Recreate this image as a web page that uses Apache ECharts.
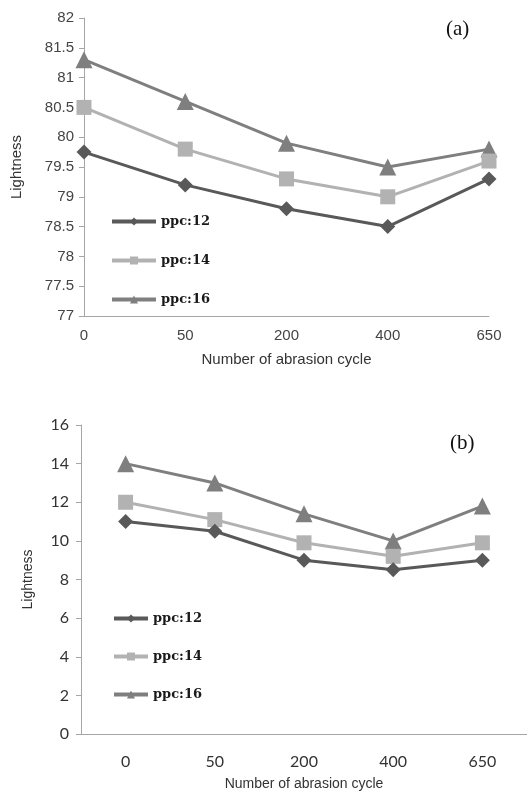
<!DOCTYPE html>
<html>
<head>
<meta charset="utf-8">
<script src="https://cdn.jsdelivr.net/npm/echarts@6/dist/echarts.min.js"></script>
<style>
  html, body { margin: 0; padding: 0; background: #fff; }
  #chart { width: 527px; height: 792px; }
</style>
</head>
<body>
<div id="chart"></div>
<script>
var cycles = ["0", "50", "200", "400", "650"];
var seriesNames = ["ppc:12", "ppc:14", "ppc:16"];

// panel (a)
var topPpc12 = [79.75, 79.2, 78.8, 78.5, 79.3];
var topPpc14 = [80.5, 79.8, 79.3, 79.0, 79.6];
var topPpc16 = [81.3, 80.6, 79.9, 79.5, 79.8];

// panel (b)
var botPpc12 = [11, 10.5, 9, 8.5, 9];
var botPpc14 = [12, 11.1, 9.9, 9.2, 9.9];
var botPpc16 = [14, 13, 11.4, 10, 11.8];

var colors = ["#595959", "#b2b2b2", "#7f7f7f"];
var symbols = ["diamond", "rect", "triangle"];
var symbolSizes = [15, 15, 17];

var chart = echarts.init(document.getElementById("chart"));

function makeSeries(idx, grid, data) {
  return {
    name: seriesNames[idx],
    type: "line",
    xAxisIndex: grid,
    yAxisIndex: grid,
    data: data,
    symbol: symbols[idx],
    symbolSize: symbolSizes[idx],
    showAllSymbol: true,
    color: colors[idx],
    lineStyle: { width: 3, color: colors[idx] },
    itemStyle: { color: colors[idx] },
    animation: false,
    z: 3 - idx
  };
}

var legendText = {
  fontFamily: "DejaVu Serif",
  fontWeight: "bold",
  fontSize: 13,
  color: "#1a1a1a"
};

var option = {
  animation: false,
  title: [
    { text: "(a)", left: 441, top: 14, textStyle: { fontFamily: "Liberation Serif", fontWeight: "normal", fontSize: 21, color: "#111" } },
    { text: "(b)", left: 445, top: 428, textStyle: { fontFamily: "Liberation Serif", fontWeight: "normal", fontSize: 21, color: "#111" } }
  ],
  legend: [
    {
      data: seriesNames, orient: "vertical", left: 110, top: 215, padding: 0,
      itemWidth: 44, itemHeight: 10, itemGap: 26, textStyle: legendText,
      lineStyle: { width: 4 }
    },
    {
      data: seriesNames, orient: "vertical", left: 112, top: 612, padding: 0,
      itemWidth: 34, itemHeight: 10, itemGap: 25, textStyle: legendText,
      lineStyle: { width: 4 }
    }
  ],
  grid: [
    { left: 84, top: 18, width: 405, height: 298 },
    { left: 81, top: 425, width: 470, height: 310 }
  ],
  xAxis: [
    {
      gridIndex: 0, type: "category", data: cycles, boundaryGap: false,
      name: "Number of abrasion cycle", nameLocation: "middle", nameGap: 36,
      nameTextStyle: { fontFamily: "Liberation Sans", fontSize: 15, color: "#333" },
      axisLine: { lineStyle: { color: "#a6a6a6", width: 1 } },
      axisTick: { show: false },
      axisLabel: { fontFamily: "Liberation Sans", fontSize: 15, color: "#444", margin: 12 }
    },
    {
      gridIndex: 1, type: "category", data: cycles, boundaryGap: true,
      name: "Number of abrasion cycle", nameLocation: "middle", nameGap: 43,
      nameTextStyle: { fontFamily: "Liberation Sans", fontSize: 14, color: "#333" },
      axisLine: { lineStyle: { color: "#a6a6a6", width: 1 } },
      axisTick: { show: false },
      axisLabel: { fontFamily: "Lato", fontSize: 16, color: "#333", margin: 20 }
    }
  ],
  yAxis: [
    {
      gridIndex: 0, type: "value", min: 77, max: 82, interval: 0.5,
      name: "Lightness", nameLocation: "middle", nameGap: 60,
      nameTextStyle: { fontFamily: "Liberation Sans", fontSize: 15, color: "#333" },
      axisLine: { show: true, lineStyle: { color: "#a6a6a6", width: 1 } },
      axisTick: { show: true, length: 5, lineStyle: { color: "#a6a6a6" } },
      splitLine: { show: false },
      axisLabel: { fontFamily: "Liberation Sans", fontSize: 15, color: "#444", margin: 10 }
    },
    {
      gridIndex: 1, type: "value", min: 0, max: 16, interval: 2,
      name: "Lightness", nameLocation: "middle", nameGap: 46,
      nameTextStyle: { fontFamily: "Liberation Sans", fontSize: 14, color: "#333" },
      axisLine: { show: true, lineStyle: { color: "#a6a6a6", width: 1 } },
      axisTick: { show: true, length: 5, lineStyle: { color: "#a6a6a6" } },
      splitLine: { show: false },
      axisLabel: { fontFamily: "Lato", fontSize: 16, color: "#333", margin: 12 }
    }
  ],
  series: [
    makeSeries(0, 0, topPpc12),
    makeSeries(1, 0, topPpc14),
    makeSeries(2, 0, topPpc16),
    makeSeries(0, 1, botPpc12),
    makeSeries(1, 1, botPpc14),
    makeSeries(2, 1, botPpc16)
  ]
};

chart.setOption(option);
</script>
</body>
</html>
